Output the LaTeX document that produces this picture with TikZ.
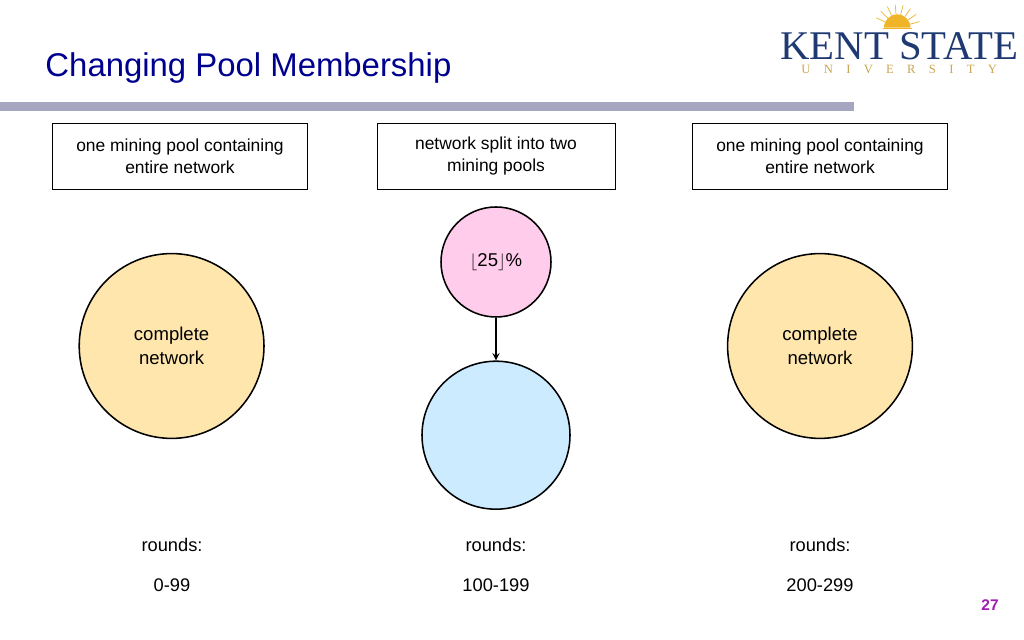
\documentclass[tikz,border=0pt]{standalone}
\usepackage{fontspec}
\setmainfont{Liberation Sans}
\newfontfamily\logofont{Liberation Serif}
\usepackage{xcolor}
\usetikzlibrary{positioning}
\definecolor{titleblue}{HTML}{00008F}
\definecolor{barblue}{HTML}{A6A6C0}
\definecolor{netyellow}{HTML}{FFE6AD}
\definecolor{poolpink}{HTML}{FFCCEB}
\definecolor{poolblue}{HTML}{CCEBFF}
\definecolor{kentblue}{HTML}{1F3A73}
\definecolor{kentgold}{HTML}{C9A552}
\definecolor{sungold}{HTML}{F0B429}
\definecolor{pagepurple}{HTML}{A01FB0}
\tikzset{
    phasebox/.style={draw=black, line width=0.6pt, minimum height=1.65cm, align=center, font=\fontsize{12.4}{15.6}\selectfont},
    poolcircle/.style={circle, draw=black, line width=1.1pt, inner sep=0pt, align=center, font=\fontsize{13.2}{17}\selectfont},
    roundtext/.style={font=\fontsize{13}{16}\selectfont}
}
\begin{document}
\begin{tikzpicture}[scale=1]
    \useasboundingbox (0,0) rectangle (25.6,16);

    % header
    \fill[barblue] (0,13.225) rectangle (21.35,13.45);
    \node[anchor=west, text=titleblue, font=\fontsize{23.4}{28}\selectfont, inner sep=0pt] (title) at (1.13,14.3) {Changing Pool Membership};

    % logo
    \fill[sungold] (22.1,15.31) arc (180:0:0.33) -- cycle;
    \foreach \a in {15,35,...,165}
        \draw[sungold, line width=0.5pt] ({22.43+0.33*cos(\a)},{15.31+0.33*sin(\a)}) -- ({22.43+0.34*1.7*cos(\a)},{15.31+0.34*1.7*sin(\a)});
    \fill[sungold] (22.07,15.28) rectangle (22.8,15.31);
    \node[text=kentblue, font=\logofont\fontsize{29}{30}\selectfont, inner sep=0pt] (kentname) at (22.48,14.85) {KENT STATE};
    \node[text=kentgold, font=\logofont\fontsize{9}{10}\selectfont, inner sep=0pt] (kentuni) at (22.48,14.26) {U\hspace{1.05em}N\hspace{1.05em}I\hspace{1.05em}V\hspace{1.05em}E\hspace{1.05em}R\hspace{1.05em}S\hspace{1.05em}I\hspace{1.05em}T\hspace{1.05em}Y};

    % boxes
    \node[phasebox, minimum width=6.375cm] (first) at (4.5,12.1) {one mining pool containing\\entire network};
    \node[phasebox, minimum width=5.95cm] (second) at (12.4,12.1) {network split into two\\mining pools};
    \node[phasebox, minimum width=6.375cm] (third) at (20.5,12.1) {one mining pool containing\\entire network};

    % circles
    \node[poolcircle, fill=netyellow, minimum size=4.62cm] (netleft) at (4.29,7.35) {complete\\network};
    \node[poolcircle, fill=poolpink, minimum size=2.75cm] (poolsmall) at (12.4,9.45) {$\lfloor$25$\rfloor$\%};
    \node[poolcircle, fill=poolblue, minimum size=3.7cm] (poollarge) at (12.4,5.12) {};
    \node[poolcircle, fill=netyellow, minimum size=4.62cm] (netright) at (20.5,7.35) {complete\\network};
    \draw[-stealth, line width=1.3pt] (poolsmall) -- (poollarge);

    % rounds
    \node[roundtext] (roundsa) at (4.3,2.37) {rounds:};
    \node[roundtext] (rangea) at (4.3,1.37) {0-99};
    \node[roundtext] (roundsb) at (12.4,2.37) {rounds:};
    \node[roundtext] (rangeb) at (12.4,1.37) {100-199};
    \node[roundtext] (roundsc) at (20.5,2.37) {rounds:};
    \node[roundtext] (rangec) at (20.5,1.37) {200-299};

    % page number
    \node[text=pagepurple, font=\bfseries\fontsize{11}{13}\selectfont, inner sep=0pt] (pagenum) at (24.75,0.88) {27};
\end{tikzpicture}
\end{document}
